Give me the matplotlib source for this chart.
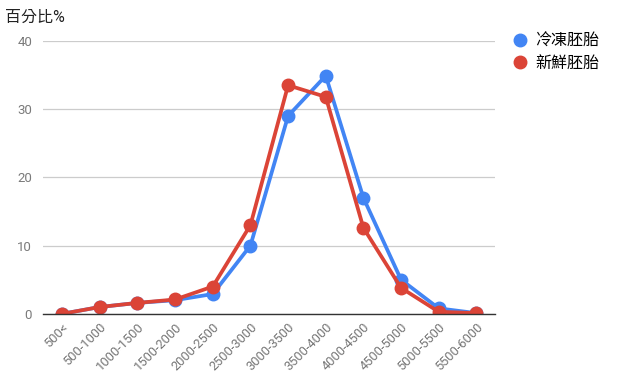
import matplotlib.pyplot as plt
import matplotlib.transforms as mtransforms

plt.rcParams['font.family'] = ['Roboto', 'Noto Sans CJK TC', 'DejaVu Sans']

categories = ['500<', '500-1000', '1000-1500', '1500-2000', '2000-2500', '2500-3000',
              '3000-3500', '3500-4000', '4000-4500', '4500-5000', '5000-5500', '5500-6000']
frozen = [0, 1.0, 1.6, 2.0, 2.9, 10.0, 29.0, 34.9, 17.0, 5.0, 0.8, 0.1]
fresh = [0, 1.0, 1.6, 2.1, 4.0, 13.0, 33.5, 31.8, 12.6, 3.8, 0.3, 0.1]
series_names = ['冷凍胚胎', '新鮮胚胎']
yticks = [0, 10, 20, 30, 40]

blue = '#4285f4'
red = '#db4437'

fig = plt.figure(figsize=(6.19, 3.86), dpi=100)
ax = fig.add_axes([0.07, 0.187, 0.73, 0.707])

x = list(range(len(categories)))
ax.plot(x, frozen, color=blue, lw=2.7, marker='o', ms=9, label=series_names[0],
        solid_joinstyle='round', zorder=3)
ax.plot(x, fresh, color=red, lw=2.7, marker='o', ms=9, label=series_names[1],
        solid_joinstyle='round', zorder=4)

ax.set_xlim(-0.5, len(categories) - 0.5)
ax.set_ylim(0, 40)
ax.set_yticks(yticks)
ax.set_xticks(x)
ax.set_xticklabels(categories, rotation=45, ha='right', rotation_mode='anchor',
                   fontsize=9.3, color='#757575')
# nudge labels so their ends sit just right of the tick
offset = mtransforms.ScaledTranslation(6 / 100, 0, fig.dpi_scale_trans)
for lab in ax.get_xticklabels():
    lab.set_transform(lab.get_transform() + offset)
ax.tick_params(axis='y', length=0, pad=8, labelsize=9.5, labelcolor='#7a7a7a')
ax.tick_params(axis='x', length=0, pad=5)
ax.grid(axis='y', color='#cccccc', lw=0.9)
ax.set_axisbelow(True)
for s in ['top', 'right', 'left']:
    ax.spines[s].set_visible(False)
ax.spines['bottom'].set_color('#333333')
ax.spines['bottom'].set_linewidth(1.0)
ax.spines['bottom'].set_zorder(5)

fig.text(0.008, 0.955, '百分比%', fontsize=11.5, color='#222222', va='center')

handles = [plt.Line2D([], [], ls='', marker='o', ms=9, color=c) for c in (blue, red)]
fig.legend(handles, series_names, loc='upper left', bbox_to_anchor=(0.815, 0.93),
           frameon=False, fontsize=11.5, handletextpad=0.3, labelspacing=0.45,
           handlelength=1.2, borderaxespad=0)

fig.savefig('out.png', dpi=100)
